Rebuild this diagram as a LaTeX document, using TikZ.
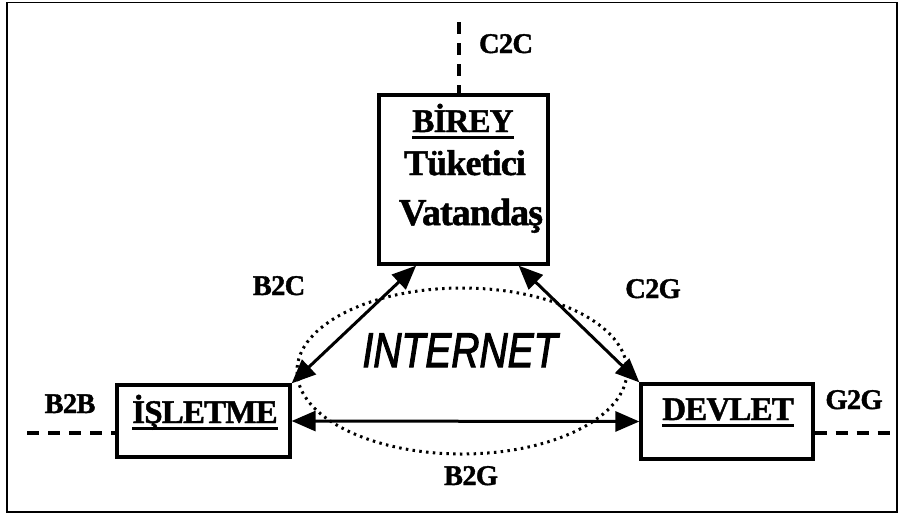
\documentclass[tikz,border=0pt]{standalone}
\usepackage{fontspec}
\setmainfont{Liberation Serif}[BoldFeatures={FakeBold=1.3,LetterSpace=-2.5}]
\newfontfamily\inetfont{Liberation Sans}[ItalicFeatures={FakeBold=2.5}]
\usetikzlibrary{arrows.meta,calc,shapes.geometric}
\newcommand\myul[1]{\setbox0\hbox{#1}\rlap{\rule[-7pt]{\wd0}{3.5pt}}\box0}
\tikzset{
  boxstyle/.style={draw,line width=3.3pt,rectangle,inner sep=0pt},
  boxtxt/.style={anchor=base,inner sep=0pt,font=\bfseries\fontsize{33}{35}\selectfont},
  lbl/.style={anchor=base,inner sep=0pt,font=\bfseries\fontsize{28.5}{30}\selectfont},
  arr/.style={line width=3pt,{Triangle[length=24pt,width=20pt]}-{Triangle[length=24pt,width=20pt]}},
  dashline/.style={line width=3.3pt,dash pattern=on 12pt off 9pt},
  dotline/.style={line width=3pt,dash pattern=on 2.5pt off 4.3pt}
}
\begin{document}
\begin{tikzpicture}[x=1pt,y=-1pt]
\useasboundingbox (0,0) rectangle (904,515);
\draw[line width=1.6pt] (7,2.5) rectangle (897,512);
% boxes
\node[boxstyle,minimum width=169pt,minimum height=169pt] (birey) at (463.5,179.5) {};
\node[boxstyle,minimum width=173pt,minimum height=72pt] (isletme) at (203.5,421) {};
\node[boxstyle,minimum width=172pt,minimum height=75pt] (devlet) at (727,421.5) {};
% box texts
\node[boxtxt] (birey1) at (463,132) {\myul{BİREY}};
\node[boxtxt,font=\bfseries\fontsize{36}{38}\selectfont] (birey2) at (465,175) {Tüketici};
\node[boxtxt,font=\bfseries\fontsize{38}{40}\selectfont] (birey3) at (471,225) {Vatandaş};
\node[boxtxt] (isletmetxt) at (205,423) {\myul{İŞLETME}};
\node[boxtxt] (devlettxt) at (728,420) {\myul{DEVLET}};
% internet cloud
\node[draw,dotline,ellipse,minimum width=330pt,minimum height=166pt,inner sep=0pt] (cloud) at (462,371) {};
\node[anchor=base,inner sep=0pt,font=\inetfont\itshape\fontsize{39}{40}\selectfont] (inet) at (460,367) {\scalebox{1}[1.25]{INTERNET}};
% arrows
\coordinate (bl) at ($(birey.south west)!0.225!(birey.south east)$);
\coordinate (br) at ($(birey.south west)!0.82!(birey.south east)$);
\draw[arr] (isletme.north east) -- (bl);
\draw[arr] (br) -- (devlet.north west);
\draw[arr] (isletme.east) -- (devlet.west);
% dashed lines
\coordinate (c2cend) at (459,22);
\coordinate (b2bend) at (27,433);
\coordinate (g2gend) at (897,433);
\draw[dashline] (c2cend) -- (c2cend |- birey.north);
\draw[dashline] (b2bend) -- (b2bend -| isletme.west);
\draw[dashline] (g2gend -| devlet.east) -- (g2gend);
% labels
\node[lbl] (c2c) at (506,53) {C2C};
\node[lbl] (b2b) at (70,413) {B2B};
\node[lbl] (b2c) at (279,295) {B2C};
\node[lbl] (c2g) at (653,298) {C2G};
\node[lbl] (b2g) at (471,485) {B2G};
\node[lbl] (g2g) at (854,409) {G2G};
\end{tikzpicture}
\end{document}
